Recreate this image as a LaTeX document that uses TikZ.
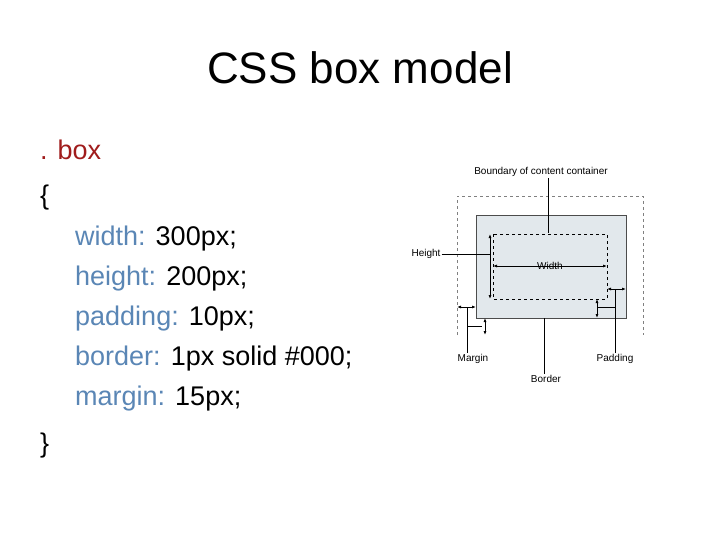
\documentclass[tikz,border=0pt]{standalone}
\usepackage{fontspec}
\setmainfont{Liberation Sans}
\usetikzlibrary{arrows.meta}
\definecolor{keyblue}{HTML}{5A86B5}
\definecolor{selred}{HTML}{A01C1C}
\definecolor{boxfill}{HTML}{E2E8EC}
\tikzset{
  lbl/.style={font=\fontsize{10}{12}\selectfont, inner sep=1pt},
  code/.style={anchor=west, font=\fontsize{27}{30}\selectfont, inner sep=0pt},
  dim/.style={{Latex[length=4pt,width=3pt]}-{Latex[length=4pt,width=3pt]}, thick},
  lead/.style={line width=0.6pt}
}
\begin{document}
\begin{tikzpicture}[x=1pt,y=-1pt]
    \useasboundingbox (0,0) rectangle (720,540);
    \node[font=\fontsize{44}{48}\selectfont] (title) at (360,68) {CSS box model};

    % stylesheet rule
    \node[code, text=selred] (sel) at (40,150) {. box};
    \node[code] (open) at (40,198) {\{};
    \node[code] (w) at (75,239) {\textcolor{keyblue}{width:} 300px;};
    \node[code] (h) at (75,279) {\textcolor{keyblue}{height:} 200px;};
    \node[code] (p) at (75,319) {\textcolor{keyblue}{padding:} 10px;};
    \node[code] (b) at (75,359) {\textcolor{keyblue}{border:} 1px solid \#000;};
    \node[code] (m) at (75,399) {\textcolor{keyblue}{margin:} 15px;};
    \node[code] (close) at (40,446) {\}};

    % box diagram
    \draw[gray, dashed, line width=0.5pt] (457,335) -- (457,196) -- (643,196) -- (643,335);
    \draw[fill=boxfill, draw=black!70, line width=0.8pt] (476,215) rectangle (626,318);
    \draw[dashed, line width=0.7pt] (493,234) rectangle (607,299);

    \node[lbl] (bound) at (541,172) {Boundary of content container};
    \node[lbl] (hgt) at (426,254) {Height};
    \node[lbl, fill=boxfill] (wid) at (550,266) {Width};
    \node[lbl] (mar) at (473,359) {Margin};
    \node[lbl] (pad) at (615,359) {Padding};
    \node[lbl] (bor) at (546,379) {Border};

    \draw[dim] (490,234) -- (490,299);
    \draw[lead] (hgt.east) -- (490,254);
    \draw[lead] (548,233) -- (548,0 |- bound.south);
    \draw[dim] (493,266) -- (607,266);

    % padding
    \draw[dim] (607,289) -- (626,289);
    \draw[dim] (597,299) -- (597,318);
    \draw[lead] (pad.north) -- (615,289);
    \draw[lead] (597,307) -- (615,307);

    % margin
    \draw[dim] (457,307) -- (476,307);
    \draw[dim] (485,318) -- (485,335);
    \draw[lead] (467,307) -- (467,0 |- mar.north);
    \draw[lead] (467,326) -- (482,326);

    % border
    \draw[lead] (544,318) -- (544,0 |- bor.north);
\end{tikzpicture}
\end{document}
